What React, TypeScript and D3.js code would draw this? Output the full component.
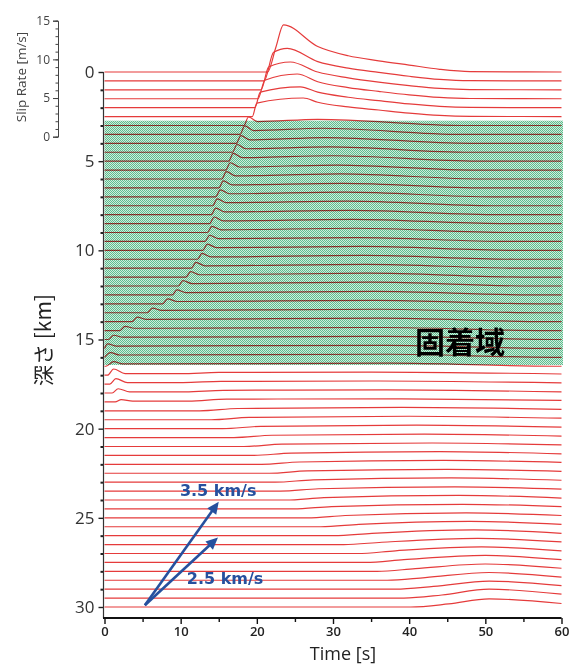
import { useEffect, useRef } from 'react';
import * as d3 from 'd3';

type Pt = [number, number];

// shallow traces above the locked zone (depth km, times s, rates m/s)
const shallowDepth = [0, 0.5, 1, 1.5, 2, 2.5];
const shallowOnset = [21.4, 20.95, 20.55, 20.15, 19.75, 19.4];
const shallowKneeT = [22.5, 22.2, 21.55, 21.05, 20.45, 20.0];
const shallowKneeV = [3.2, 3.7, 2.95, 2.4, 2.0, 1.75];
const shallowPeakT = [23.5, 24.0, 24.4, 25.3, 25.7, 26.1];
const shallowPeakV = [6.1, 4.2, 3.6, 3.2, 2.7, 2.4];
const decayTimes = [28, 32, 36, 40, 44, 48];
const shallowDecay = [
  [3.3, 2.1, 1.45, 0.9, 0.35, 0.05],
  [2.5, 1.65, 1.1, 0.6, 0.2, 0.03],
  [2.3, 1.55, 1.0, 0.55, 0.18, 0.03],
  [2.2, 1.45, 0.95, 0.5, 0.17, 0.03],
  [2.0, 1.35, 0.9, 0.48, 0.16, 0.03],
  [1.85, 1.25, 0.85, 0.45, 0.15, 0.03],
];

// locked zone traces (固着域)
const lockedDepth = [3, 3.5, 4, 4.5, 5, 5.5, 6, 6.5, 7, 7.5, 8, 8.5, 9, 9.5, 10, 10.5, 11, 11.5, 12, 12.5, 13, 13.5, 14, 14.5, 15, 15.5, 16, 16.5];
const lockedOnset = [18.3, 17.8, 17.3, 16.8, 16.3, 15.9, 15.4, 15.0, 14.6, 14.2, 14.0, 13.8, 13.5, 13.2, 12.9, 12.2, 11.4, 10.7, 9.7, 8.9, 7.6, 5.6, 3.6, 2.0, 0.5, 0, 0, 0.2];
const lockedCuspT = [18.9, 18.4, 17.9, 17.4, 16.9, 16.5, 16.0, 15.6, 15.2, 14.8, 14.6, 14.4, 14.1, 13.8, 13.5, 12.8, 12.0, 11.3, 10.3, 9.5, 8.3, 6.3, 4.3, 2.7, 1.2, 0.4, 0.8, 1.2];
const lockedCuspV = [1.1, 1.1, 1.0, 1.0, 1.0, 0.95, 0.95, 0.9, 0.9, 0.9, 0.85, 0.85, 0.8, 0.8, 0.8, 0.75, 0.75, 0.7, 0.7, 0.65, 0.65, 0.6, 0.6, 0.55, 0.55, 0.6, 0.6, 0.6];
const lockedLevelV = [0.5, 0.5, 0.45, 0.45, 0.45, 0.4, 0.4, 0.4, 0.4, 0.4, 0.35, 0.35, 0.35, 0.35, 0.35, 0.3, 0.3, 0.3, 0.3, 0.3, 0.3, 0.3, 0.3, 0.3, 0.3, 0.3, 0.3, 0.3];
const lockedHumpT = [28, 28.5, 29, 29.5, 30, 30.5, 31, 31.3, 31.6, 32, 32.3, 32.6, 33, 33.3, 33.6, 34, 34.3, 34.6, 35, 35.3, 35.6, 36, 36.3, 36.6, 37, 37, 37.3, 37.5];
const lockedHumpV = [0.8, 0.8, 0.75, 0.7, 0.7, 0.65, 0.65, 0.6, 0.6, 0.6, 0.55, 0.55, 0.55, 0.5, 0.5, 0.5, 0.5, 0.5, 0.5, 0.45, 0.45, 0.45, 0.45, 0.4, 0.4, 0.4, 0.4, 0.4];
const lockedZeroT = [47, 47, 48, 48, 49, 49, 50, 50, 51, 51, 52, 52, 53, 53, 54, 54, 55, 55, 56, 56, 57, 57, 58, 58, 59, 59, 59, 59];

// deep traces below the locked zone
const deepDepth = [17, 17.5, 18, 18.5, 19, 19.5, 20, 20.5, 21, 21.5, 22, 22.5, 23, 23.5, 24, 24.5, 25, 25.5, 26, 26.5, 27, 27.5, 28, 28.5, 29, 29.5, 30];
const deepBumpT = [1.2, 1.5, 1.8, 2.2, 0, 0, 0, 0, 0, 0, 0, 0, 0, 0, 0, 0, 0, 0, 0, 0, 0, 0, 0, 0, 0, 0, 0];
const deepBumpV = [0.8, 0.7, 0.55, 0.3, 0, 0, 0, 0, 0, 0, 0, 0, 0, 0, 0, 0, 0, 0, 0, 0, 0, 0, 0, 0, 0, 0, 0];
const deepBaseV = [0.2, 0.2, 0.15, 0.1, 0, 0, 0, 0, 0, 0, 0, 0, 0, 0, 0, 0, 0, 0, 0, 0, 0, 0, 0, 0, 0, 0, 0];
const deepOnset = [10.0, 10.3, 10.6, 11.0, 12.5, 14.0, 15.5, 17.0, 18.3, 19.5, 20.6, 21.6, 22.4, 23.1, 23.8, 24.8, 26.6, 28.4, 30.1, 31.4, 33.2, 34.3, 35.8, 37.1, 38.2, 39.3, 40.2];
const deepRiseV = [0.35, 0.35, 0.35, 0.35, 0.3, 0.3, 0.3, 0.3, 0.3, 0.3, 0.3, 0.3, 0.3, 0.3, 0.3, 0.3, 0.3, 0.3, 0.3, 0.3, 0.35, 0.35, 0.35, 0.35, 0.35, 0.4, 0.4];
const deepHumpT = [35, 36, 37, 38, 39, 40, 41, 42, 43, 44, 44.5, 45, 45.5, 46, 46.5, 47, 47.5, 48, 48.5, 49, 49.5, 50, 50, 50.5, 50.5, 50.5, 50.5];
const deepHumpV = [0.4, 0.4, 0.4, 0.4, 0.45, 0.45, 0.45, 0.45, 0.45, 0.5, 0.5, 0.5, 0.55, 0.55, 0.6, 0.6, 0.65, 0.7, 0.75, 0.8, 0.85, 0.9, 0.95, 1.0, 1.05, 1.15, 1.05];
const deepEndV = [0.15, 0.15, 0.15, 0.2, 0.2, 0.2, 0.2, 0.2, 0.2, 0.2, 0.25, 0.25, 0.25, 0.25, 0.25, 0.3, 0.3, 0.3, 0.3, 0.35, 0.35, 0.35, 0.4, 0.4, 0.45, 0.5, 0.45];

const lockedZone = [2.73, 16.43]; // km
const timeTicks = [0, 10, 20, 30, 40, 50, 60];
const depthTicks = [0, 5, 10, 15, 20, 25, 30];
const rateTicks = [0, 5, 10, 15];

const arrowStart: Pt = [5.3, 29.9];
const arrowEnds: Pt[] = [[15.0, 24.1], [14.9, 26.1]];
const arrowLabels = ['3.5 km/s', '2.5 km/s'];
const arrowLabelPos: Pt[] = [[9.9, 23.8], [10.8, 28.7]];

const CUSP_WIDTH = 1.2;
const RISE = 5;

const clean = (pts: Pt[]) => {
  const out: Pt[] = [];
  pts.forEach((p) => {
    if (out.length && p[0] <= out[out.length - 1][0]) return;
    out.push(p);
  });
  return out;
};

const App = () => {
  const svgRef = useRef<SVGSVGElement>(null);

  useEffect(() => {
    const svg = d3.select(svgRef.current);
    svg.selectAll('*').remove();

    const x = d3.scaleLinear().domain([0, 60]).range([104.5, 561.5]);
    const y = d3.scaleLinear().domain([0, 30]).range([72, 607]);
    const rate = d3.scaleLinear().domain([0, 15]).range([136.7, 20.7]);
    const amp = (v: number) => rate(0) - rate(v);

    // build traces
    const traces: { depth: number; pts: Pt[] }[] = [];
    shallowDepth.forEach((d, i) => {
      traces.push({
        depth: d,
        pts: [
          [0, 0],
          [shallowOnset[i], 0],
          [shallowKneeT[i], shallowKneeV[i]],
          [shallowPeakT[i], shallowPeakV[i]],
          ...decayTimes.map((t, j) => [t, shallowDecay[i][j]] as Pt),
          [60, 0],
        ],
      });
    });
    lockedDepth.forEach((d, i) => {
      traces.push({
        depth: d,
        pts: [
          [0, 0],
          [lockedOnset[i], 0],
          [lockedCuspT[i], lockedCuspV[i]],
          [lockedCuspT[i] + CUSP_WIDTH, lockedLevelV[i]],
          [lockedHumpT[i], lockedHumpV[i]],
          [lockedZeroT[i], 0],
          [60, 0],
        ],
      });
    });
    deepDepth.forEach((d, i) => {
      const pts: Pt[] = [[0, 0]];
      if (deepBumpV[i] > 0) {
        pts.push([deepBumpT[i] - 0.8, 0], [deepBumpT[i], deepBumpV[i]], [deepBumpT[i] + 1.5, deepBaseV[i]]);
      }
      pts.push(
        [deepOnset[i], deepBaseV[i]],
        [deepOnset[i] + RISE, deepRiseV[i]],
        [deepHumpT[i], deepHumpV[i]],
        [60, deepEndV[i]]
      );
      traces.push({ depth: d, pts });
    });

    const defs = svg.append('defs');
    const pat = defs
      .append('pattern')
      .attr('id', 'dots')
      .attr('width', 2)
      .attr('height', 2)
      .attr('patternUnits', 'userSpaceOnUse');
    pat.append('rect').attr('width', 2).attr('height', 2).attr('fill', '#d0ecdd');
    pat.append('rect').attr('width', 1).attr('height', 1).attr('fill', '#5dbd8e');
    pat.append('rect').attr('x', 1).attr('y', 1).attr('width', 1).attr('height', 1).attr('fill', '#5dbd8e');

    // traces
    const g = svg.append('g');
    traces.forEach((tr) => {
      const line = d3
        .line<Pt>()
        .x((p) => x(p[0]))
        .y((p) => y(tr.depth) - amp(p[1]))
        .curve(d3.curveMonotoneX);
      g.append('path')
        .attr('d', line(clean(tr.pts)))
        .attr('fill', 'none')
        .attr('stroke', '#e53b3b')
        .attr('stroke-width', 1.2);
    });

    // locked zone
    svg
      .append('rect')
      .attr('x', x(0))
      .attr('y', y(lockedZone[0]))
      .attr('width', x(60) + 1.5 - x(0))
      .attr('height', y(lockedZone[1]) - y(lockedZone[0]))
      .attr('fill', 'url(#dots)')
      .style('mix-blend-mode', 'multiply');

    svg
      .append('text')
      .attr('x', 415)
      .attr('y', 353)
      .attr('font-family', '"Noto Sans CJK JP"')
      .attr('font-weight', 700)
      .attr('font-size', 30)
      .attr('fill', '#000')
      .text('固着域');

    // depth axis
    const yAxis = svg.append('g').attr('transform', 'translate(103.5,0)');
    yAxis
      .call(d3.axisLeft(y).tickValues(depthTicks).tickSize(5).tickPadding(4).tickFormat(d3.format('d')))
      .call((s) => s.select('.domain').remove());
    yAxis.selectAll('text').attr('font-family', '"Open Sans"').attr('font-size', 17).attr('fill', '#333');
    yAxis.selectAll('line').attr('stroke', '#222').attr('stroke-width', 1.4);
    svg
      .append('g')
      .attr('transform', 'translate(103.5,0)')
      .call(
        d3
          .axisLeft(y)
          .tickValues(d3.range(0, 31).filter((v) => v % 5 !== 0))
          .tickSize(3)
          .tickFormat(() => '')
      )
      .call((s) => s.select('.domain').remove())
      .selectAll('line')
      .attr('stroke', '#222')
      .attr('stroke-width', 2);
    svg
      .append('line')
      .attr('x1', 103.5)
      .attr('x2', 103.5)
      .attr('y1', y(0))
      .attr('y2', 618)
      .attr('stroke', '#333')
      .attr('stroke-width', 1.2);

    // time axis
    const xAxis = svg.append('g').attr('transform', 'translate(0,618)');
    xAxis
      .call(d3.axisBottom(x).tickValues(timeTicks).tickSize(6).tickPadding(3))
      .call((s) => s.select('.domain').remove());
    xAxis
      .selectAll('text')
      .attr('font-family', '"Open Sans"')
      .attr('font-weight', 600)
      .attr('font-size', 13)
      .attr('fill', '#222');
    xAxis.selectAll('line').attr('stroke', '#111').attr('stroke-width', 1.4);
    svg
      .append('g')
      .attr('transform', 'translate(0,618)')
      .call(d3.axisBottom(x).tickValues(d3.range(5, 60, 10)).tickSize(4).tickFormat(() => ''))
      .call((s) => s.select('.domain').remove())
      .selectAll('line')
      .attr('stroke', '#111')
      .attr('stroke-width', 1.4);
    svg
      .append('line')
      .attr('x1', 103)
      .attr('x2', x(60))
      .attr('y1', 618)
      .attr('y2', 618)
      .attr('stroke', '#111')
      .attr('stroke-width', 1.8);

    // slip rate scale
    const rAxis = svg.append('g').attr('transform', 'translate(58,0)');
    rAxis.call(d3.axisLeft(rate).tickValues(rateTicks).tickSize(5).tickSizeOuter(5).tickPadding(3));
    rAxis.selectAll('text').attr('font-family', '"Open Sans"').attr('font-size', 12).attr('fill', '#444');
    rAxis.selectAll('line, path').attr('stroke', '#444');
    svg
      .append('g')
      .attr('transform', 'translate(58,0)')
      .call(d3.axisLeft(rate).tickValues(d3.range(0, 16)).tickSize(2.5).tickFormat(() => ''))
      .call((s) => s.select('.domain').remove())
      .selectAll('line')
      .attr('stroke', '#444');

    // axis titles
    svg
      .append('text')
      .attr('transform', 'translate(26,77) rotate(-90)')
      .attr('text-anchor', 'middle')
      .attr('font-family', '"Open Sans"')
      .attr('font-size', 13.5)
      .attr('fill', '#444')
      .text('Slip Rate [m/s]');
    svg
      .append('text')
      .attr('transform', 'translate(51,340) rotate(-90)')
      .attr('text-anchor', 'middle')
      .attr('font-family', '"Noto Sans CJK JP"')
      .attr('font-size', 21)
      .attr('fill', '#222')
      .text('深さ [km]');
    svg
      .append('text')
      .attr('x', 343)
      .attr('y', 660)
      .attr('text-anchor', 'middle')
      .attr('font-family', '"Open Sans"')
      .attr('font-size', 18)
      .attr('fill', '#222')
      .text('Time [s]');

    // velocity arrows
    const blue = '#26509e';
    arrowEnds.forEach((end, i) => {
      const x0 = x(arrowStart[0]);
      const y0 = y(arrowStart[1]);
      const x1 = x(end[0]);
      const y1 = y(end[1]);
      const len = Math.hypot(x1 - x0, y1 - y0);
      const ux = (x1 - x0) / len;
      const uy = (y1 - y0) / len;
      const head = 12;
      const half = 5.5;
      svg
        .append('line')
        .attr('x1', x0)
        .attr('y1', y0)
        .attr('x2', x1 - ux * head * 0.8)
        .attr('y2', y1 - uy * head * 0.8)
        .attr('stroke', blue)
        .attr('stroke-width', 2.6);
      const bx = x1 - ux * head;
      const by = y1 - uy * head;
      svg
        .append('path')
        .attr('d', `M${x1},${y1}L${bx - uy * half},${by + ux * half}L${bx + uy * half},${by - ux * half}Z`)
        .attr('fill', blue);
      svg
        .append('text')
        .attr('x', x(arrowLabelPos[i][0]))
        .attr('y', y(arrowLabelPos[i][1]))
        .attr('font-family', '"DejaVu Sans"')
        .attr('font-weight', 700)
        .attr('font-size', 16)
        .attr('fill', blue)
        .text(arrowLabels[i]);
    });
  }, []);

  return (
    <div style={{ position: 'absolute', left: 0, top: 0 }}>
      <svg ref={svgRef} width={570} height={666} style={{ display: 'block', background: '#fff' }}></svg>
    </div>
  );
};

export default App;
